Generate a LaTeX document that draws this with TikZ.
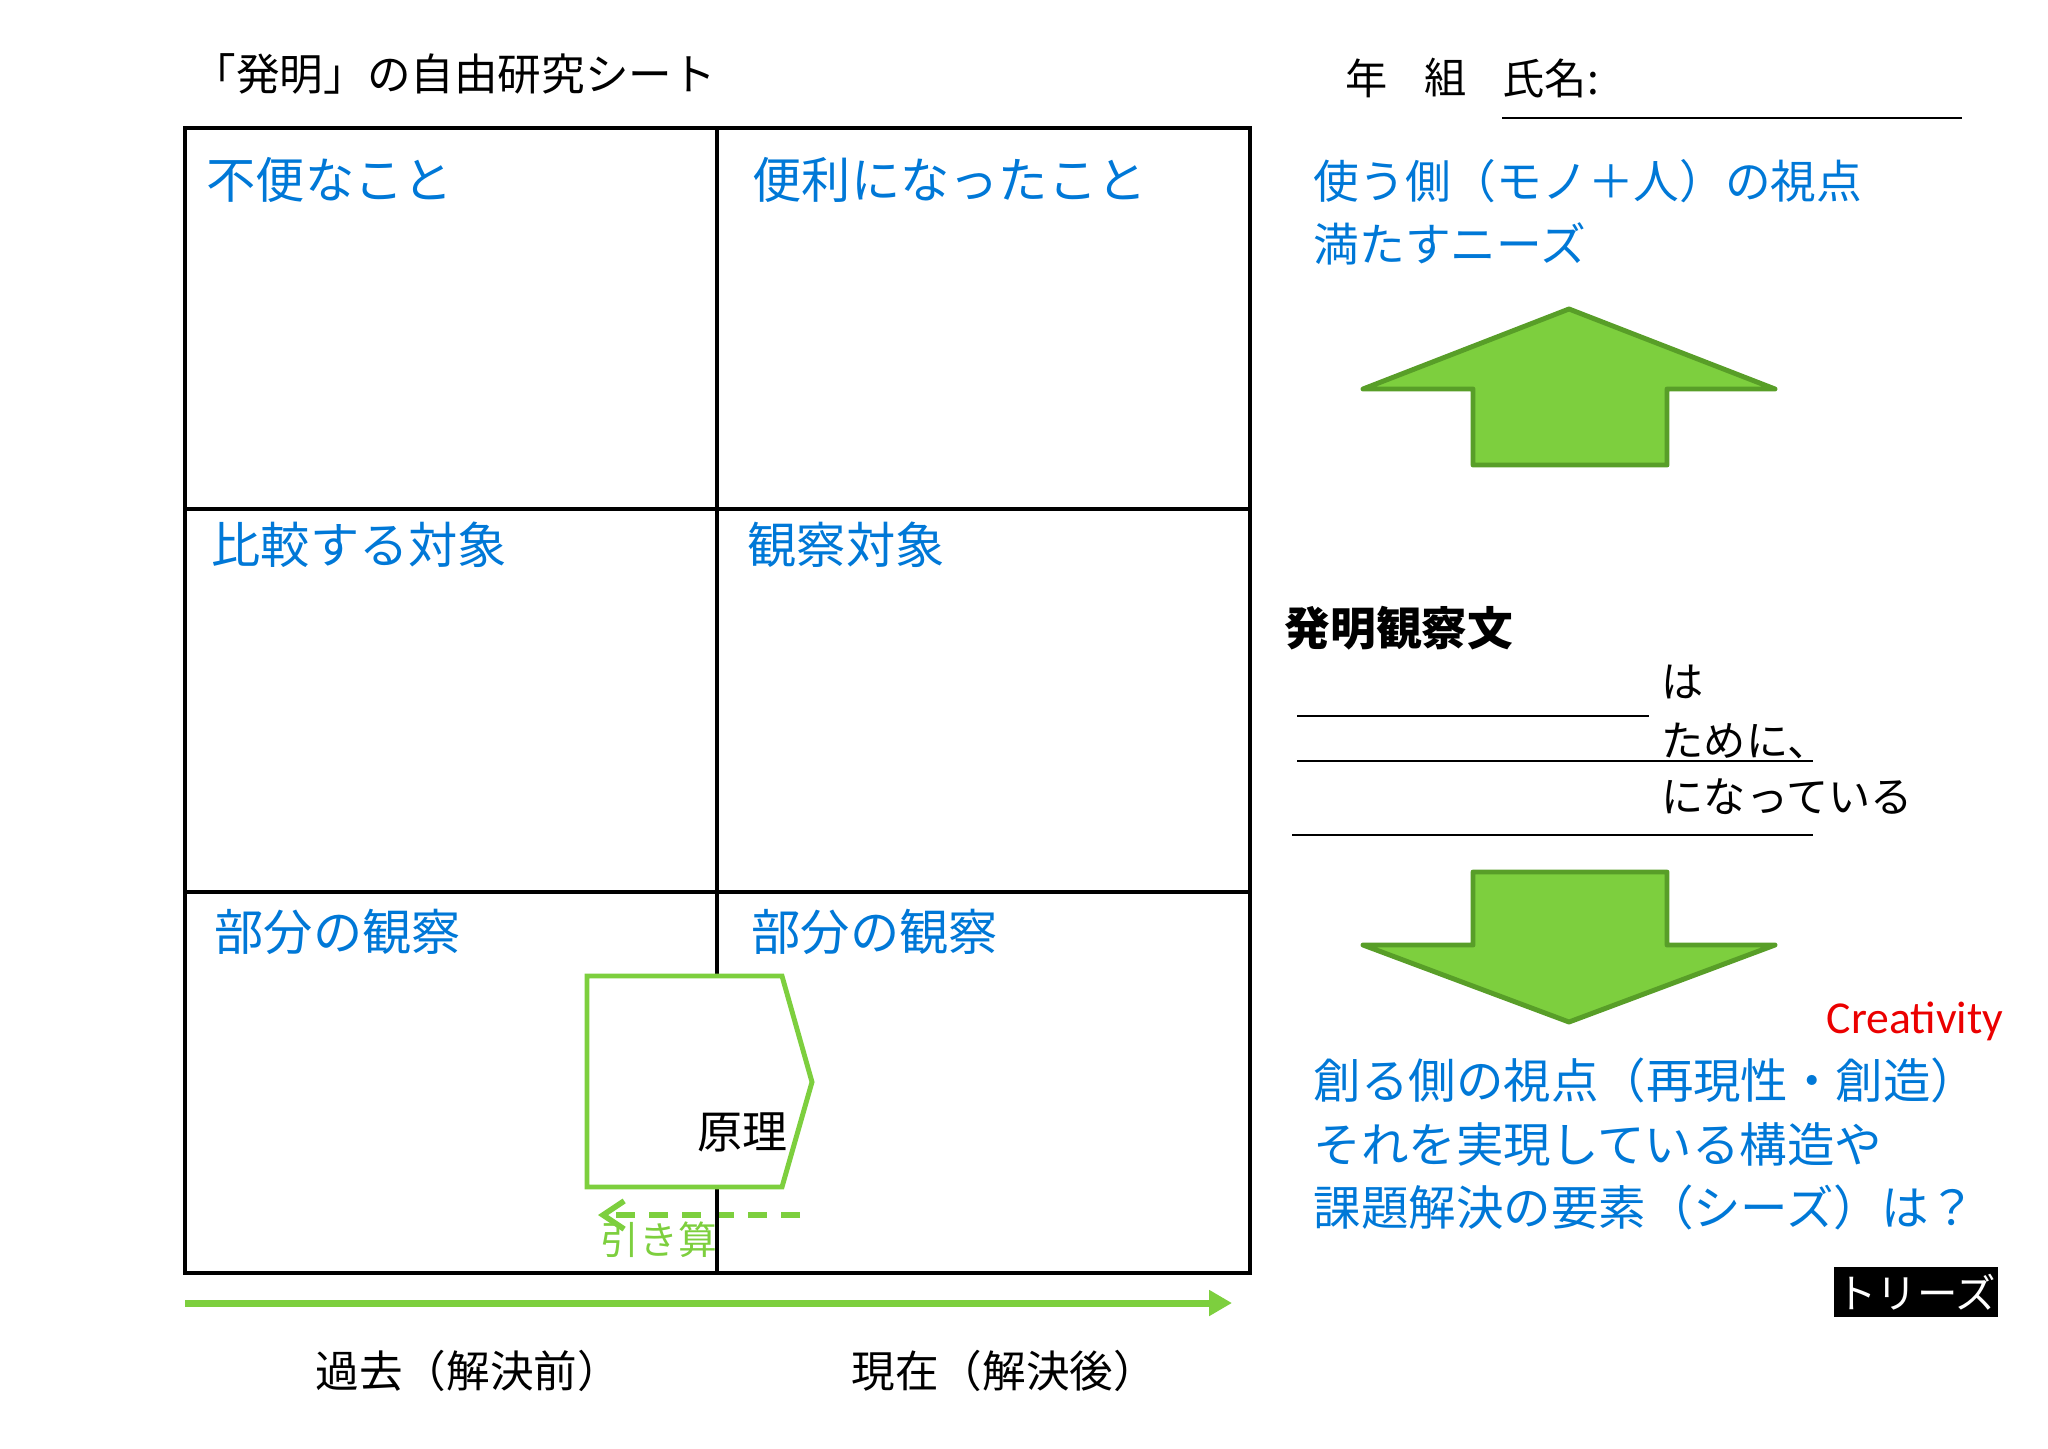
\documentclass[tikz,border=0pt]{standalone}
\usepackage{fontspec}
\setmainfont{Noto Sans CJK JP}
\newfontfamily\latinfont{Carlito}
\usepackage{xcolor}
\usetikzlibrary{arrows.meta,positioning}

\definecolor{sheetblue}{RGB}{0,120,215}
\definecolor{leafgreen}{RGB}{125,207,62}
\definecolor{leafdark}{RGB}{88,158,40}
\definecolor{creared}{RGB}{235,0,0}

\begin{document}
\begin{tikzpicture}[
    x=0.01cm, y=-0.01cm,
    frame/.style={draw=black, line width=1.3pt},
    heading/.style={
        anchor=west, inner sep=0pt, align=left,
        text=sheetblue, font=\fontsize{14}{18}\selectfont
    },
    plain/.style={anchor=west, inner sep=0pt, font=\fontsize{12}{16}\selectfont},
    blank/.style={line width=0.6pt},
    fatarrow/.style={fill=leafgreen, draw=leafdark, line width=1.4pt, line join=round},
    timeline/.style={-{Triangle[length=6.5pt,width=7pt]}, line width=2pt, leafgreen},
    subtract/.style={-{Straight Barb[length=6pt,width=8pt]}, line width=1.6pt, leafgreen,
        dash pattern=on 5.4pt off 4pt},
]
\useasboundingbox (0,0) rectangle (2048,1448);

% Header
\node[plain, font=\fontsize{12.4}{15}\selectfont] (title) at (192,74) {「発明」の自由研究シート};
\node[plain] (nen) at (1345,78) {年};
\node[plain] (kumi) at (1424,78) {組};
\node[plain] (shimei) at (1502,78) {氏名:};
\draw[blank] (shimei.west |- 0,118) -- (1962,118);

% Subtraction (under the grid)
\coordinate (subfrom) at (800,1215);
\coordinate (subto) at (598,1215);
\draw[subtract] (subfrom) -- (subto);
\node[plain, text=leafgreen, font=\fontsize{11}{14}\selectfont] (hikizan) at (600,1240) {引き算};

% Grid
\draw[frame] (185,128) rectangle (1250,1273);
\draw[frame] (717,128) -- (717,1273);
\draw[frame] (185,509) -- (1250,509);
\draw[frame] (185,892) -- (1250,892);

\node[heading] (fuben) at (206,180) {不便なこと};
\node[heading] (benri) at (752,180) {便利になったこと};
\node[heading] (hikaku) at (211,545) {比較する対象};
\node[heading] (kansatsu) at (747,545) {観察対象};
\node[heading] (bubunL) at (214,932) {部分の観察};
\node[heading] (bubunR) at (751,932) {部分の観察};

% Principle
\draw[fill=white, draw=leafgreen, line width=1.4pt, line join=miter]
    (587,976) -- (782,976) -- (812,1082) -- (782,1187) -- (587,1187) -- cycle;
\node[plain, font=\fontsize{12.8}{16}\selectfont] (genri) at (697,1132) {原理};

% Time axis
\coordinate (tstart) at (185,1303);
\coordinate (tend) at (1232,1303);
\draw[timeline] (tstart) -- (tend);
\node[plain, font=\fontsize{12.4}{15}\selectfont] (kako) at (315,1371) {過去（解決前）};
\node[plain, font=\fontsize{12.4}{15}\selectfont] (genzai) at (851,1371) {現在（解決後）};

% Right column
\node[heading, font=\fontsize{13}{18}\selectfont] (tsukau) at (1313,212)
    {使う側（モノ＋人）の視点\\満たすニーズ};
\draw[fatarrow] (1569,309) -- (1775,389) -- (1667,389) -- (1667,465)
    -- (1473,465) -- (1473,389) -- (1363,389) -- cycle;

\node[plain, font=\fontsize{13}{16}\bfseries\selectfont] (bunsho) at (1284,628) {発明観察文};
\node[plain] (wa) at (1661,682) {は};
\node[plain] (tame) at (1661,741) {ために、};
\node[plain] (natte) at (1661,797) {になっている};
\draw[blank] (1297,716) -- (1649,716);
\draw[blank] (1297,761) -- (1813,761);
\draw[blank] (1292,835) -- (1813,835);

\draw[fatarrow] (1473,872) -- (1667,872) -- (1667,945) -- (1775,945)
    -- (1569,1022) -- (1363,945) -- (1473,945) -- cycle;

\node[plain, text=creared, font=\latinfont\fontsize{13}{16}\selectfont] (creativity) at (1826,1021) {Creativity};
\node[heading, font=\fontsize{13.5}{18}\selectfont] (tsukuru) at (1313,1144)
    {創る側の視点（再現性・創造）\\それを実現している構造や\\課題解決の要素（シーズ）は？};

\node[fill=black, text=white, inner sep=0pt, minimum width=1.63cm, minimum height=0.5cm,
    font=\fontsize{11.5}{14}\selectfont] (triz) at (1916,1292) {トリーズ};
\end{tikzpicture}
\end{document}
